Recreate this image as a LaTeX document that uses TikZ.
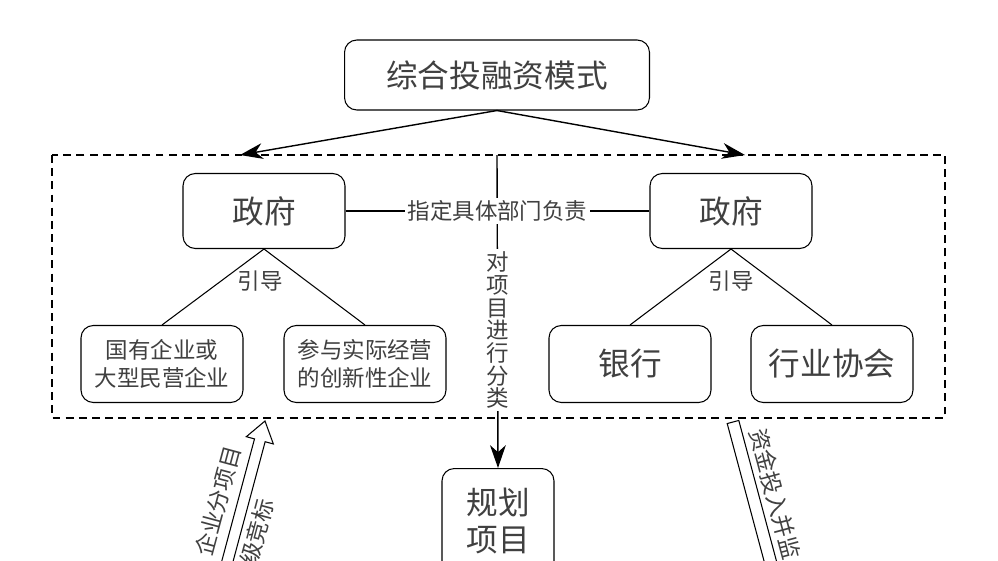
\documentclass[tikz,border=0pt]{standalone}
\usepackage{fontspec}
\setmainfont{Noto Sans CJK SC}
\usetikzlibrary{positioning,arrows.meta}

\begin{document}
\begin{tikzpicture}[x=0.02cm, y=-0.02cm,
    box/.style={draw, rounded corners=7pt, align=center, line width=0.6pt, text=black!75, font=\fontsize{18}{21}\selectfont},
    smallbox/.style={box, font=\fontsize{12.8}{16}\selectfont},
    note/.style={text=black!75, font=\fontsize{12.8}{15}\selectfont, inner sep=1.5pt},
    link/.style={line width=0.6pt},
    arrow/.style={-{Stealth[length=13pt, width=9pt, inset=4pt]}, line width=0.8pt},
    hollow/.style={draw, line width=0.6pt, fill=white}]

    % page
    \clip (0,0) rectangle (998,561);
    \fill[white] (0,0) rectangle (998,561);

    % Mode
    \node[box, minimum width=6.1cm, minimum height=1.4cm] (mode) at (497,75) {综合投融资模式};

    % Frame
    \draw[dash pattern=on 4.5pt off 3pt, line width=0.6pt] (52,155) rectangle (945,418);
    \coordinate (lefttip) at (240,155);
    \coordinate (righttip) at (745,155);
    \coordinate (split) at (497,155);

    % Governments
    \node[box, minimum width=3.24cm, minimum height=1.5cm] (govl) at (264,211) {政府};
    \node[box, minimum width=3.24cm, minimum height=1.5cm] (govr) at (731,211) {政府};

    % Enterprises
    \node[smallbox, minimum width=3.24cm, minimum height=1.54cm] (soe) at (162,364) {国有企业或\\大型民营企业};
    \node[smallbox, minimum width=3.24cm, minimum height=1.54cm] (inno) at (365,364) {参与实际经营\\的创新性企业};

    % Finance
    \node[box, minimum width=3.24cm, minimum height=1.54cm] (bank) at (630,364) {银行};
    \node[box, minimum width=3.24cm, minimum height=1.54cm] (assoc) at (832,364) {行业协会};

    % Planned projects
    \node[box, minimum width=2.24cm, minimum height=2.1cm, anchor=north] (plan) at (498,468) {规划\\项目};

    % Connect components with arrows
    \draw[arrow] (mode.south) -- (lefttip);
    \draw[arrow] (mode.south) -- (righttip);
    \draw[arrow] (split) -- (plan.north)
        node[pos=0.56, note, fill=white, align=center, font=\fontsize{12.8}{12.9}\selectfont] (sort) {对\\项\\目\\进\\行\\分\\类};
    \draw[link] (govl) -- (govr) node[midway, note, fill=white] (dept) {指定具体部门负责};
    \draw[link] (govl.south) -- (soe.north);
    \draw[link] (govl.south) -- (inno.north);
    \draw[link] (govr.south) -- (bank.north);
    \draw[link] (govr.south) -- (assoc.north);

    % Labels
    \node[note] (guidel) at (260,281) {引导};
    \node[note] (guider) at (731,281) {引导};

    % Hollow arrows
    \begin{scope}[shift={(265,421)}, rotate=-15]
        \draw[hollow] (0,0) -- (14,20) -- (5.5,20) -- (5.5,220) -- (-5.5,220) -- (-5.5,20) -- (-14,20) -- cycle;
    \end{scope}
    \begin{scope}[shift={(733,422)}, rotate=15]
        \draw[hollow] (-6,0) -- (6,0) -- (6,220) -- (-6,220) -- cycle;
    \end{scope}
    \node[note, rotate=75] (bidl) at (218,501) {企业分项目};
    \node[note, rotate=75] (bidr) at (257,532) {级竞标};
    \node[note, rotate=-75] (fund) at (775,494) {资金投入并监};
\end{tikzpicture}
\end{document}
